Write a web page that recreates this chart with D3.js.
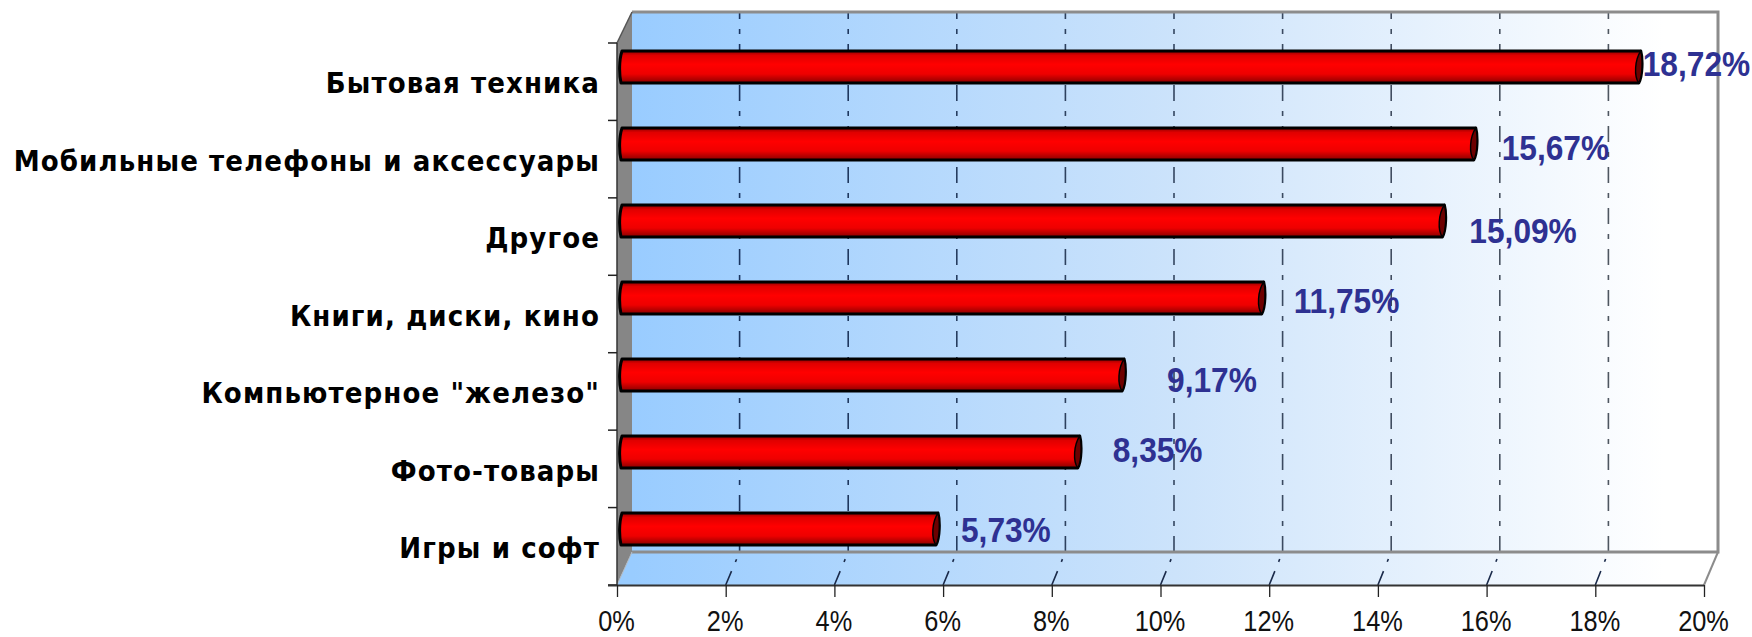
<!DOCTYPE html>
<html><head><meta charset="utf-8">
<style>html,body{margin:0;padding:0;background:#fff}svg{display:block}</style>
<script src="https://cdn.jsdelivr.net/npm/d3@7/dist/d3.min.js"></script>
</head><body><svg id="c" width="1752" height="637"></svg>
<script>
const categories = ["Бытовая техника","Мобильные телефоны и аксессуары","Другое","Книги, диски, кино","Компьютерное \"железо\"","Фото-товары","Игры и софт"];
const values = [18.72,15.67,15.09,11.75,9.17,8.35,5.73];
const valueLabels = ["18,72%","15,67%","15,09%","11,75%","9,17%","8,35%","5,73%"];
const xTicks = [0,2,4,6,8,10,12,14,16,18,20];
const labelDx = [1,25,24,29,42,32,22];
const labelDy = [9,16,22,15,17,10,13];

const svg = d3.select("#c");
const x = d3.scaleLinear([0,20],[617,1704]);
const xBack = d3.scaleLinear([0,20],[631,1717]);
const xBar = d3.scaleLinear([0,20],[629,1711]);
const yTick = d3.scaleBand(categories,[43,585]);
const yBar = d3.scaleBand(categories,[50,589]);
const yText = d3.scaleBand(categories,[93,636]);
const defs = svg.append("defs");
const wall = defs.append("linearGradient").attr("id","wall").attr("gradientUnits","userSpaceOnUse")
  .attr("x1",632).attr("x2",1718).attr("y1",0).attr("y2",0);
wall.append("stop").attr("offset",0).attr("stop-color","#99ccff");
wall.append("stop").attr("offset",0.5).attr("stop-color","#cce3fb");
wall.append("stop").attr("offset",0.95).attr("stop-color","#ffffff");
const red = defs.append("linearGradient").attr("id","red").attr("x1",0).attr("x2",0).attr("y1",0).attr("y2",1);
[[0,"#900000"],[0.14,"#e00000"],[0.42,"#ff0000"],[0.72,"#ee0000"],[1,"#880000"]].forEach(s=>
  red.append("stop").attr("offset",s[0]).attr("stop-color",s[1]));

// walls
svg.append("path").attr("d","M617,43L632,12V552L617,585Z").attr("fill","#868686");
svg.append("rect").attr("x",632).attr("y",12).attr("width",1086).attr("height",540).attr("fill","url(#wall)");
svg.append("path").attr("d","M632,552H1718L1704,585H617Z").attr("fill","url(#wall)");

// grid
const grid = xTicks.slice(1,-1);
svg.append("g").selectAll("line").data(grid).join("line")
  .attr("x1",d=>xBack(d)).attr("x2",d=>xBack(d)).attr("y1",12).attr("y2",552)
  .attr("stroke",d=>d3.interpolateRgb("#12305f","#555a60")(d/20)).attr("stroke-width",1.6)
  .attr("stroke-dasharray","16 10 5 10").attr("stroke-dashoffset",9);
svg.append("g").selectAll("line").data(grid).join("line")
  .attr("x1",d=>x(d)).attr("x2",d=>xBack(d)).attr("y1",585).attr("y2",552)
  .attr("stroke","#1a2a4a").attr("stroke-width",1.6)
  .attr("stroke-dasharray","15 10 3 100");

// frame
svg.append("path").attr("d","M632,552H1718V12H632").attr("fill","none").attr("stroke","#8c8c8c").attr("stroke-width",3);
svg.append("path").attr("d","M1718,552L1704,585").attr("fill","none").attr("stroke","#8c8c8c").attr("stroke-width",2);
svg.append("path").attr("d","M617,43L632,12").attr("fill","none").attr("stroke","#555").attr("stroke-width",1.5);
svg.append("path").attr("d","M617,585L632,552").attr("fill","none").attr("stroke","#b0b8c0").attr("stroke-width",1);

// left axis
const tickYs = categories.map(c=>yTick(c)).concat([585]);
svg.append("line").attr("x1",617).attr("x2",617).attr("y1",43).attr("y2",585).attr("stroke","#333").attr("stroke-width",1.5);
svg.append("g").selectAll("line").data(tickYs).join("line")
  .attr("x1",608).attr("x2",617).attr("y1",d=>d).attr("y2",d=>d).attr("stroke","#222").attr("stroke-width",1.5);

// bottom axis
const ax = svg.append("g").attr("transform","translate(0,585)")
  .call(d3.axisBottom(x).tickValues(xTicks).tickFormat(d=>d+"%").tickSize(12).tickPadding(9));
ax.select(".domain").attr("d","M608,0.5H1704").attr("stroke","#333").attr("stroke-width",2);
ax.selectAll(".tick line").attr("stroke","#222").attr("stroke-width",1.3);
ax.selectAll(".tick text").attr("fill","#111")
  .style("font-family","'Liberation Sans',sans-serif").style("font-size","29.5px")
  .attr("dy",0).attr("y",0).attr("transform","translate(-1,45.5) scale(0.86,1)");

// bars
const bars = svg.append("g").selectAll("g").data(values).join("g")
  .attr("transform",(d,i)=>`translate(0,${yBar(categories[i])})`);
bars.append("path").attr("fill","url(#red)").attr("stroke","#000").attr("stroke-width",3).attr("stroke-linejoin","round")
  .attr("d",d=>{const r=xBar(d);return `M622,1C619,10 619,24 621,33H${r-3}C${r+1},26 ${r+1},8 ${r-1},1Z`});
bars.append("path").attr("fill","#6d0000").attr("stroke","#000").attr("stroke-width",1.4)
  .attr("d",d=>{const r=xBar(d);return `M${r-1},1C${r+1},8 ${r+1},26 ${r-3},33C${r-8},26 ${r-7},10 ${r-1},1Z`});

// category labels
svg.append("g").selectAll("text").data(categories).join("text")
  .attr("x",600).attr("y",c=>yText(c))
  .attr("text-anchor","end").attr("fill","#000")
  .style("font-family","'DejaVu Sans',sans-serif").style("font-stretch","condensed").style("font-weight","bold").style("font-size","29px").style("letter-spacing","1.1px")
  .text(c=>c);

// value labels
svg.append("g").selectAll("text").data(valueLabels).join("text")
  .attr("transform",(d,i)=>`translate(${xBar(values[i])+labelDx[i]},${yBar(categories[i])+16.5+labelDy[i]}) scale(0.88,1)`)
  .attr("fill","#2e3192")
  .style("font-family","'Liberation Sans',sans-serif").style("font-weight","bold").style("font-size","36px")
  .text(d=>d);
</script></body></html>
